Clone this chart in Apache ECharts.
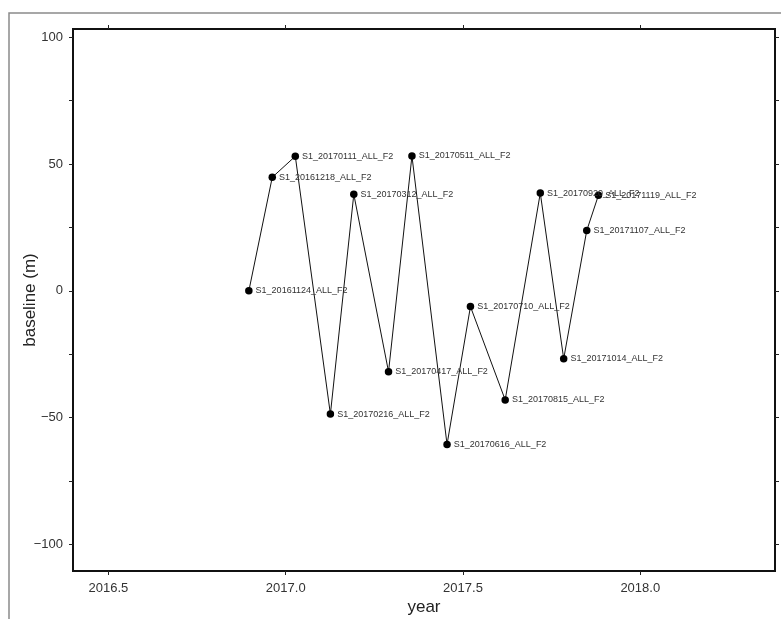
<!DOCTYPE html>
<html>
<head>
<meta charset="utf-8">
<script src="https://cdn.jsdelivr.net/npm/echarts@6/dist/echarts.min.js"></script>
<style>
  html, body { margin: 0; padding: 0; background: #fff; }
  #chart { width: 781px; height: 619px; }
</style>
</head>
<body>
<div id="chart"></div>
<script>
// acquisition names, decimal years and perpendicular baselines (m)
var names = [
  'S1_20161124_ALL_F2', 'S1_20161218_ALL_F2', 'S1_20170111_ALL_F2', 'S1_20170216_ALL_F2',
  'S1_20170312_ALL_F2', 'S1_20170417_ALL_F2', 'S1_20170511_ALL_F2', 'S1_20170616_ALL_F2',
  'S1_20170710_ALL_F2', 'S1_20170815_ALL_F2', 'S1_20170920_ALL_F2', 'S1_20171014_ALL_F2',
  'S1_20171107_ALL_F2', 'S1_20171119_ALL_F2'
];
var years = [
  2016.896, 2016.962, 2017.027, 2017.126,
  2017.192, 2017.290, 2017.356, 2017.455,
  2017.521, 2017.619, 2017.718, 2017.784,
  2017.849, 2017.882
];
var baselines = [
  0, 44.8, 53.1, -48.6,
  38.1, -31.9, 53.2, -60.6,
  -6.2, -43.0, 38.6, -26.8,
  23.8, 37.7
];
var xTickLabels = [2016.5, 2017.0, 2017.5, 2018.0];
var yTickLabels = [-100, -50, 0, 50, 100];
var yTicks = [-100, -75, -50, -25, 0, 25, 50, 75, 100];

var font = '"Liberation Sans", Arial, Helvetica, sans-serif';

var points = [];
for (var i = 0; i < years.length; i++) {
  points.push({ value: [years[i], baselines[i]], name: names[i] });
}

var tickStyle = { show: true, inside: false, length: 4, lineStyle: { color: '#222', width: 1 } };

var chart = echarts.init(document.getElementById('chart'));

chart.setOption({
  animation: false,
  textStyle: { fontFamily: font },
  graphic: [{
    type: 'rect',
    shape: { x: 9, y: 13, width: 820, height: 700 },
    style: { fill: 'none', stroke: '#8a8a8a', lineWidth: 1.5 },
    silent: true,
    z: -10
  }],
  grid: {
    left: 73, top: 29, right: 6, bottom: 48,
    outerBoundsMode: 'none',
    containLabel: false,
    show: true, borderColor: '#111', borderWidth: 2, backgroundColor: '#fff'
  },
  xAxis: [{
    type: 'value',
    min: 2016.4,
    max: 2018.38,
    position: 'bottom',
    name: 'year',
    nameLocation: 'middle',
    nameGap: 28,
    nameMoveOverlap: false,
    nameTextStyle: { fontSize: 17, color: '#222', fontFamily: font },
    axisLine: { show: false, onZero: false },
    splitLine: { show: false },
    axisTick: Object.assign({ customValues: xTickLabels }, tickStyle),
    axisLabel: {
      customValues: xTickLabels,
      fontSize: 13, color: '#333', margin: 11, fontFamily: font,
      formatter: function (v) { return v.toFixed(1); }
    }
  }, {
    type: 'value',
    min: 2016.4,
    max: 2018.38,
    position: 'top',
    axisLine: { show: false, onZero: false },
    splitLine: { show: false },
    axisTick: Object.assign({ customValues: xTickLabels }, tickStyle),
    axisLabel: { show: false }
  }],
  yAxis: [{
    type: 'value',
    min: -110.5,
    max: 103.3,
    position: 'left',
    name: 'baseline (m)',
    nameLocation: 'middle',
    nameGap: 34,
    nameMoveOverlap: false,
    nameTextStyle: { fontSize: 17, color: '#222', fontFamily: font },
    axisLine: { show: false, onZero: false },
    splitLine: { show: false },
    axisTick: Object.assign({ customValues: yTicks }, tickStyle),
    axisLabel: {
      customValues: yTickLabels,
      fontSize: 13, color: '#333', margin: 10, fontFamily: font,
      formatter: function (v) { return v < 0 ? '\u2212' + Math.abs(v) : String(v); }
    }
  }, {
    type: 'value',
    min: -110.5,
    max: 103.3,
    position: 'right',
    axisLine: { show: false, onZero: false },
    splitLine: { show: false },
    axisTick: Object.assign({ customValues: yTicks }, tickStyle),
    axisLabel: { show: false }
  }],
  series: [{
    type: 'line',
    data: points,
    symbol: 'circle',
    symbolSize: 7.5,
    lineStyle: { color: '#111', width: 1 },
    itemStyle: { color: '#000' },
    label: {
      show: true,
      position: 'right',
      distance: 3,
      offset: [0, -6],
      fontSize: 9,
      color: '#333',
      fontFamily: font,
      formatter: function (p) { return p.name; }
    },
    labelLayout: { hideOverlap: false }
  }]
});
</script>
</body>
</html>
